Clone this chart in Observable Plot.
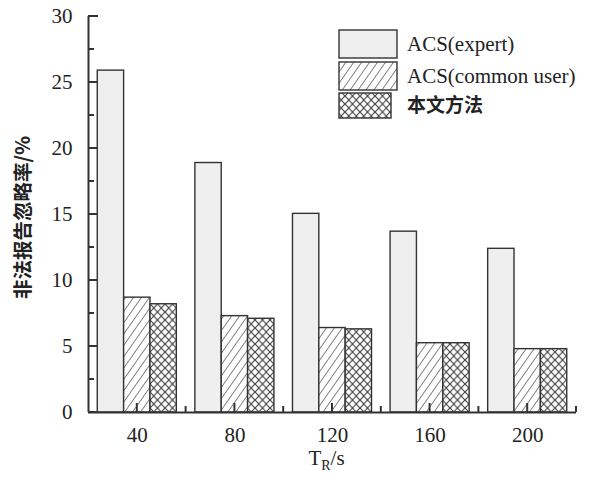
<!DOCTYPE html>
<html>
<head>
<meta charset="utf-8">
<script src="https://cdn.jsdelivr.net/npm/d3@7"></script>
<script src="https://cdn.jsdelivr.net/npm/@observablehq/plot@0.6"></script>
<style>
  html, body { margin: 0; padding: 0; background: #fff; }
  #chart svg { display: block; }
</style>
</head>
<body>
<div id="chart"></div>
<script>
// ---- data ----
const categories = ["40", "80", "120", "160", "200"];
const seriesNames = ["ACS(expert)", "ACS(common user)", "本文方法"];
const expert   = [25.9, 18.9, 15.05, 13.7, 12.4];
const common   = [8.7, 7.3, 6.4, 5.25, 4.8];
const proposed = [8.2, 7.1, 6.3, 5.25, 4.8];
const yMajor = [0, 5, 10, 15, 20, 25, 30];
const yMinor = [2.5, 7.5, 12.5, 17.5, 22.5, 27.5];
const yTitle = "非法报告忽略率/%";
const xTitle = "TR/s";

const seriesValues = [expert, common, proposed];
const fills = ["#efefef", "url(#hatch)", "url(#cross)"];
const rows = [];
seriesValues.forEach((vals, k) => vals.forEach((v, i) => rows.push({i, k, v, cat: categories[i]})));

const groupW = 0.81, barW = groupW / 3;
const serif = "'Liberation Serif', 'Times New Roman', serif";
const cjk = "'Noto Sans CJK SC', sans-serif";
const ink = "#333";

// inward ticks drawn with the plot's own scales
function ticksMark(index, scales) {
  const {x, y} = scales;
  const g = d3.create("svg:g").attr("stroke", ink).attr("stroke-width", 2).attr("fill", "none");
  const x0 = x(0), y0 = y(0);
  yMajor.forEach(v => g.append("line").attr("x1", x0).attr("x2", x0 + 10).attr("y1", y(v)).attr("y2", y(v)));
  yMinor.forEach(v => g.append("line").attr("x1", x0).attr("x2", x0 + 6).attr("y1", y(v)).attr("y2", y(v)));
  categories.forEach((c, i) => g.append("line").attr("x1", x(i + 0.5)).attr("x2", x(i + 0.5)).attr("y1", y0).attr("y2", y0 - 9));
  d3.range(1, categories.length + 1).forEach(b => g.append("line").attr("x1", x(b)).attr("x2", x(b)).attr("y1", y0).attr("y2", y0 - 6));
  return g.node();
}

const plot = Plot.plot({
  width: 593,
  height: 479,
  marginLeft: 88,
  marginRight: 17,
  marginTop: 16,
  marginBottom: 67,
  style: {fontFamily: serif, fontSize: "21px", color: "#222", background: "#fff"},
  x: {type: "linear", domain: [0, categories.length], axis: null},
  y: {domain: [0, 30], axis: null},
  marks: [
    Plot.rect(rows, {
      x1: d => d.i + 0.5 - groupW / 2 + d.k * barW,
      x2: d => d.i + 0.5 - groupW / 2 + (d.k + 1) * barW,
      y1: 0,
      y2: d => d.v,
      fill: d => fills[d.k],
      stroke: ink,
      strokeWidth: 1.4
    }),
    // axes lines
    Plot.ruleX([0], {y1: 0, y2: 30, stroke: ink, strokeWidth: 2}),
    Plot.ruleY([0], {x1: 0, x2: categories.length, stroke: ink, strokeWidth: 2}),
    ticksMark,
    // tick labels
    Plot.text(yMajor, {x: 0, y: d => d, text: d => String(d), dx: -16, textAnchor: "end", fontSize: 21, fill: "#222"}),
    Plot.text(categories, {x: (d, i) => i + 0.5, y: 0, text: d => d, dy: 23, fontSize: 21, fill: "#222"}),
    // titles
    Plot.text([yTitle], {frameAnchor: "left", text: d => d, rotate: -90, textAnchor: "middle", dx: -65, dy: 3, fontSize: 19.5, fontFamily: cjk, fontWeight: 600, fill: "#222"}),
    Plot.text([xTitle], {frameAnchor: "bottom", text: d => d, dy: 52, dx: -6, fontSize: 21, fill: "#222"})
  ]
});

const svg = d3.select(plot);
const defs = svg.insert("defs", ":first-child");
const hatch = defs.append("pattern")
  .attr("id", "hatch").attr("patternUnits", "userSpaceOnUse")
  .attr("width", 6.5).attr("height", 10)
  .attr("patternTransform", "rotate(35)");
hatch.append("rect").attr("width", 6.5).attr("height", 10).attr("fill", "#fff");
hatch.append("line").attr("x1", 0).attr("y1", 0).attr("x2", 0).attr("y2", 10)
  .attr("stroke", "#444").attr("stroke-width", 1.3);
const cross = defs.append("pattern")
  .attr("id", "cross").attr("patternUnits", "userSpaceOnUse")
  .attr("width", 7.5).attr("height", 8);
cross.append("rect").attr("width", 7.5).attr("height", 8).attr("fill", "#fff");
cross.append("path").attr("d", "M-1,-1.07L8.5,9.07M8.5,-1.07L-1,9.07")
  .attr("stroke", "#444").attr("stroke-width", 1.2).attr("fill", "none");

// subscript in x title
svg.selectAll("text").filter(function() { return this.textContent === xTitle; })
  .each(function() {
    const t = d3.select(this);
    t.text(null);
    t.append("tspan").text("T");
    t.append("tspan").attr("font-size", 14).attr("dy", 5).text("R");
    t.append("tspan").attr("dy", -5).text("/s");
  });

// legend (inside plot area, top right)
const lg = svg.append("g").attr("class", "legend").attr("text-anchor", "start");
const boxes = [
  {x: 339, y: 30, w: 58, h: 28},
  {x: 339, y: 62, w: 58, h: 28},
  {x: 339, y: 93, w: 52, h: 25}
];
seriesNames.forEach((name, k) => {
  const b = boxes[k];
  lg.append("rect").attr("x", b.x).attr("y", b.y).attr("width", b.w).attr("height", b.h)
    .attr("fill", fills[k]).attr("stroke", ink).attr("stroke-width", 1.4);
  lg.append("text").attr("x", 407).attr("y", b.y + b.h / 2)
    .attr("dy", "0.35em")
    .attr("text-anchor", "start")
    .attr("font-size", k === 2 ? 19 : 21)
    .attr("font-family", k === 2 ? cjk : serif)
    .attr("font-weight", k === 2 ? 700 : 400)
    .attr("fill", "#222")
    .text(name);
});

document.getElementById("chart").appendChild(plot);
</script>
</body>
</html>
